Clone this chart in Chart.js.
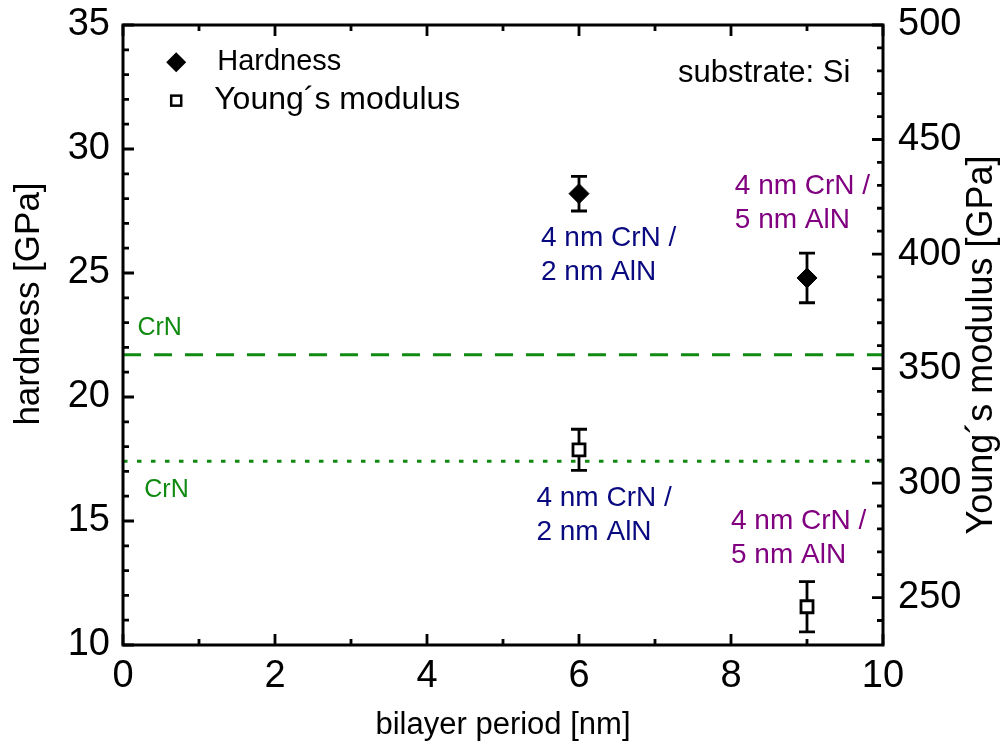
<!DOCTYPE html>
<html>
<head>
<meta charset="utf-8">
<script src="https://cdn.jsdelivr.net/npm/chart.js@4.4.0/dist/chart.umd.min.js"></script>
<style>
  html, body { margin: 0; padding: 0; background: #fff; }
  #wrap { width: 1007px; height: 749px; position: relative; }
</style>
</head>
<body>
<div id="wrap"><canvas id="chart"></canvas></div>
<script>
// bilayer period [nm] of the two multilayers
const periods = [6, 9];
const hardness = [28.2, 24.8];
const hardnessErr = [0.7, 1.0];
const modulus = [314.5, 246];
const modulusErr = [9, 11];
// single layer CrN reference values
const crnHardness = 21.7;
const crnModulus = 309.5;

const periodTicks = [0, 2, 4, 6, 8, 10];
const hardnessTicks = [10, 15, 20, 25, 30, 35];
const modulusTicks = [250, 300, 350, 400, 450, 500];
const sampleLabels = [['4 nm CrN /', '2 nm AlN'], ['4 nm CrN /', '5 nm AlN']];
const sampleColors = ['#0a0a80', '#800080'];

const FONT = '"Liberation Sans", Arial, sans-serif';
const GREEN = '#108a10';

function drawDiamond(ctx, x, y, r) {
  ctx.beginPath();
  ctx.moveTo(x, y - r); ctx.lineTo(x + r, y); ctx.lineTo(x, y + r); ctx.lineTo(x - r, y);
  ctx.closePath();
  ctx.fillStyle = '#000';
  ctx.fill();
}

function drawSquare(ctx, x, y, s) {
  ctx.fillStyle = '#fff';
  ctx.fillRect(x - s / 2, y - s / 2, s, s);
  ctx.strokeStyle = '#000';
  ctx.lineWidth = 2.5;
  ctx.strokeRect(x - s / 2, y - s / 2, s, s);
}

const decor = {
  id: 'decor',
  beforeDatasetsDraw(chart) {
    const { ctx, scales: { x, y, y2 } } = chart;
    ctx.save();
    ctx.strokeStyle = '#000';
    ctx.lineWidth = 2.8;
    const bar = (px, lo, hi) => {
      ctx.beginPath();
      ctx.moveTo(px, lo); ctx.lineTo(px, hi);
      ctx.moveTo(px - 8, lo); ctx.lineTo(px + 8, lo);
      ctx.moveTo(px - 8, hi); ctx.lineTo(px + 8, hi);
      ctx.stroke();
    };
    periods.forEach((p, i) => {
      const px = x.getPixelForValue(p);
      bar(px, y.getPixelForValue(hardness[i] - hardnessErr[i]), y.getPixelForValue(hardness[i] + hardnessErr[i]));
      bar(px, y2.getPixelForValue(modulus[i] - modulusErr[i]), y2.getPixelForValue(modulus[i] + modulusErr[i]));
    });
    ctx.restore();
  },
  afterDraw(chart) {
    const { ctx, chartArea: a, scales: { x, y, y2 } } = chart;
    ctx.save();

    // inward ticks on all four sides
    ctx.strokeStyle = '#000';
    ctx.lineWidth = 2.8;
    ctx.beginPath();
    for (let v = x.min; v <= x.max; v += 1) {
      const px = x.getPixelForValue(v);
      const len = v % 2 === 0 ? 11 : 6;
      ctx.moveTo(px, a.bottom); ctx.lineTo(px, a.bottom - len);
      ctx.moveTo(px, a.top); ctx.lineTo(px, a.top + len);
    }
    for (let v = y.min; v <= y.max; v += 1) {
      const py = y.getPixelForValue(v);
      const len = v % 5 === 0 ? 11 : 6;
      ctx.moveTo(a.left, py); ctx.lineTo(a.left + len, py);
    }
    for (let v = 240; v <= y2.max; v += 10) {
      const py = y2.getPixelForValue(v);
      const len = v % 50 === 0 ? 11 : 6;
      ctx.moveTo(a.right, py); ctx.lineTo(a.right - len, py);
    }
    ctx.stroke();

    // frame
    ctx.lineWidth = 3;
    ctx.strokeRect(a.left, a.top, a.right - a.left, a.bottom - a.top);

    // y axis titles
    ctx.fillStyle = '#000';
    ctx.textAlign = 'center';
    ctx.textBaseline = 'middle';
    ctx.save();
    ctx.font = '35px ' + FONT;
    ctx.translate(29, 304);
    ctx.rotate(-Math.PI / 2);
    ctx.fillText('hardness [GPa]', 0, 0);
    ctx.restore();
    ctx.save();
    ctx.font = '36px ' + FONT;
    ctx.translate(982, 345);
    ctx.rotate(-Math.PI / 2);
    ctx.fillText('Young\u00b4s modulus [GPa]', 0, 0);
    ctx.restore();

    // legend
    const lx = x.getPixelForValue(0.7);
    const ly1 = y.getPixelForValue(33.5);
    const ly2 = y.getPixelForValue(31.95);
    drawDiamond(ctx, lx, ly1, 10);
    drawSquare(ctx, lx, ly2, 10);
    ctx.fillStyle = '#000';
    ctx.textAlign = 'left';
    ctx.font = '29px ' + FONT;
    ctx.fillText('Hardness', lx + 41, ly1);
    ctx.font = '32px ' + FONT;
    ctx.fillText('Young\u00b4s modulus', lx + 38, ly2);

    ctx.font = '31px ' + FONT;
    ctx.textAlign = 'right';
    ctx.fillText('substrate: Si', x.getPixelForValue(9.57), y.getPixelForValue(33.05));

    // sample annotations
    ctx.textAlign = 'left';
    ctx.font = '28px ' + FONT;
    const anno = [
      [5.5, 26.41, 0], [8.05, 28.48, 1],
      [5.44, 15.92, 0], [8.0, 14.97, 1]
    ];
    anno.forEach(([xv, yv, k]) => {
      ctx.fillStyle = sampleColors[k];
      const px = x.getPixelForValue(xv);
      const py = y.getPixelForValue(yv);
      sampleLabels[k].forEach((t, j) => ctx.fillText(t, px, py + j * 34));
    });

    // CrN reference labels
    ctx.fillStyle = GREEN;
    ctx.font = '25px ' + FONT;
    ctx.fillText('CrN', x.getPixelForValue(0.19), y.getPixelForValue(22.78));
    ctx.fillText('CrN', x.getPixelForValue(0.28), y.getPixelForValue(16.25));

    ctx.restore();
  }
};

const noPadV = s => { s.paddingTop = 0; s.paddingBottom = 0; };

new Chart(document.getElementById('chart'), {
  type: 'scatter',
  data: {
    datasets: [
      {
        label: 'Hardness',
        data: periods.map((p, i) => ({ x: p, y: hardness[i] })),
        yAxisID: 'y',
        pointStyle: 'rectRot',
        pointRadius: 10,
        backgroundColor: '#000',
        borderColor: '#000',
        borderWidth: 1
      },
      {
        label: 'Young\u00b4s modulus',
        data: periods.map((p, i) => ({ x: p, y: modulus[i] })),
        yAxisID: 'y2',
        pointStyle: 'rect',
        pointRadius: 8.5,
        backgroundColor: '#fff',
        borderColor: '#000',
        borderWidth: 2.8
      },
      {
        type: 'line',
        label: 'CrN hardness',
        data: [{ x: 0, y: crnHardness }, { x: 10, y: crnHardness }],
        yAxisID: 'y',
        borderColor: GREEN,
        borderWidth: 3,
        borderDash: [18, 13],
        pointRadius: 0
      },
      {
        type: 'line',
        label: 'CrN modulus',
        data: [{ x: 0, y: crnModulus }, { x: 10, y: crnModulus }],
        yAxisID: 'y2',
        borderColor: GREEN,
        borderWidth: 3,
        borderDash: [4.5, 9.5],
        pointRadius: 0
      }
    ]
  },
  options: {
    responsive: true,
    maintainAspectRatio: false,
    animation: false,
    layout: { padding: { top: 25, left: 0, right: 0, bottom: 0 } },
    plugins: { legend: { display: false }, tooltip: { enabled: false } },
    scales: {
      x: {
        type: 'linear',
        min: 0,
        max: 10,
        afterBuildTicks: s => { s.ticks = periodTicks.map(v => ({ value: v })); },
        afterFit: s => { s.height = 104; s.paddingLeft = 0; s.paddingRight = 0; },
        grid: { display: false, drawTicks: false },
        border: { display: false },
        ticks: { color: '#000', font: { family: FONT, size: 38 }, padding: 9, maxRotation: 0, autoSkip: false },
        title: { display: true, text: 'bilayer period [nm]', color: '#000', font: { family: FONT, size: 31 }, padding: { top: 0, bottom: 5 } }
      },
      y: {
        position: 'left',
        min: 10,
        max: 35,
        afterBuildTicks: s => { s.ticks = hardnessTicks.map(v => ({ value: v })); },
        afterFit: s => { s.width = 123; noPadV(s); },
        grid: { display: false, drawTicks: false },
        border: { display: false },
        ticks: { color: '#000', font: { family: FONT, size: 38 }, padding: 13, autoSkip: false }
      },
      y2: {
        position: 'right',
        min: 229.3,
        max: 500,
        afterBuildTicks: s => { s.ticks = modulusTicks.map(v => ({ value: v })); },
        afterFit: s => { s.width = 124; noPadV(s); },
        grid: { display: false, drawTicks: false },
        border: { display: false },
        ticks: { color: '#000', font: { family: FONT, size: 38 }, padding: 15, autoSkip: false }
      }
    }
  },
  plugins: [decor]
});
</script>
</body>
</html>
